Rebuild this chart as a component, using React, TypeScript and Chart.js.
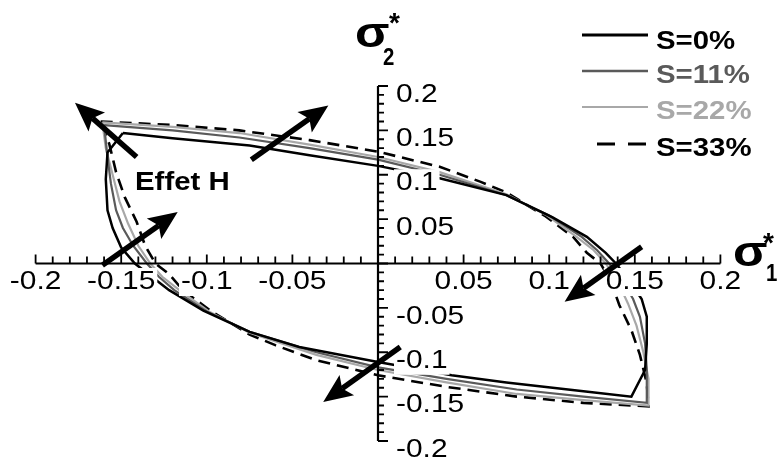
import React, { useEffect, useRef } from "react";
import { Chart, registerables } from "chart.js";

Chart.register(...registerables);

// ---- data (sigma1*, sigma2*), closed loops ----
const S0_X = [-0.149, -0.120, -0.075, -0.040, 0.000, 0.036, 0.075, 0.102, 0.122, 0.133, 0.139,
  0.147, 0.154, 0.157, 0.157, 0.156, 0.148,
  0.120, 0.075, 0.043, 0.000, -0.046, -0.075, -0.102, -0.122, -0.134, -0.142,
  -0.150, -0.155, -0.158, -0.159, -0.158];
const S0_Y = [0.147, 0.141, 0.133, 0.122, 0.110, 0.096, 0.077, 0.052, 0.030, 0.012, 0.000,
  -0.020, -0.040, -0.060, -0.090, -0.120, -0.150,
  -0.144, -0.134, -0.126, -0.111, -0.094, -0.077, -0.053, -0.030, -0.012, 0.000,
  0.018, 0.040, 0.060, 0.095, 0.125];

const S11_X = [-0.160, -0.120, -0.081, -0.040, 0.000, 0.036, 0.075, 0.100, 0.119, 0.128, 0.135,
  0.143, 0.149, 0.153, 0.156, 0.157, 0.157,
  0.120, 0.081, 0.040, 0.000, -0.036, -0.075, -0.100, -0.119, -0.128, -0.135,
  -0.143, -0.149, -0.153, -0.156, -0.158];
const S11_Y = [0.156, 0.150, 0.142, 0.130, 0.117, 0.100, 0.077, 0.054, 0.030, 0.015, 0.000,
  -0.020, -0.040, -0.060, -0.090, -0.120, -0.157,
  -0.150, -0.142, -0.130, -0.117, -0.100, -0.077, -0.054, -0.030, -0.015, 0.000,
  0.020, 0.040, 0.060, 0.090, 0.120];

const S22_X = [-0.161, -0.120, -0.081, -0.040, 0.000, 0.036, 0.075, 0.098, 0.116, 0.126, 0.133,
  0.140, 0.146, 0.151, 0.155, 0.158, 0.158,
  0.120, 0.081, 0.040, 0.000, -0.036, -0.075, -0.098, -0.116, -0.126, -0.133,
  -0.140, -0.146, -0.151, -0.155, -0.159];
const S22_Y = [0.159, 0.154, 0.147, 0.134, 0.120, 0.103, 0.078, 0.055, 0.030, 0.015, 0.000,
  -0.020, -0.045, -0.070, -0.100, -0.130, -0.160,
  -0.154, -0.147, -0.134, -0.120, -0.103, -0.078, -0.055, -0.030, -0.015, 0.000,
  0.020, 0.045, 0.070, 0.100, 0.130];

const S33_X = [-0.162, -0.120, -0.081, -0.040, 0.000, 0.036, 0.060, 0.075, 0.098, 0.114, 0.122, 0.130,
  0.136, 0.141, 0.148, 0.153, 0.157, 0.158,
  0.120, 0.081, 0.040, 0.000, -0.036, -0.060, -0.075, -0.098, -0.114, -0.122, -0.130,
  -0.136, -0.141, -0.148, -0.153, -0.157];
const S33_Y = [0.160, 0.156, 0.150, 0.139, 0.126, 0.109, 0.092, 0.080, 0.053, 0.030, 0.012, 0.000,
  -0.020, -0.047, -0.075, -0.103, -0.135, -0.161,
  -0.157, -0.150, -0.139, -0.126, -0.109, -0.092, -0.080, -0.053, -0.030, -0.012, 0.000,
  0.020, 0.047, 0.075, 0.103, 0.135];

const SERIES_LABELS = ["S=0%", "S=11%", "S=22%", "S=33%"];
const SERIES_COLORS = ["#000000", "#5a5a5a", "#a8a8a8", "#000000"];

const X_TICK_VALUES = [-0.2, -0.15, -0.1, -0.05, 0.05, 0.1, 0.15, 0.2];
const X_TICK_LABELS = ["-0.2", "-0.15", "-0.1", "-0.05", "0.05", "0.1", "0.15", "0.2"];
const Y_TICK_VALUES = [0.2, 0.15, 0.1, 0.05, -0.05, -0.1, -0.15, -0.2];
const Y_TICK_LABELS = ["0.2", "0.15", "0.1", "0.05", "-0.05", "-0.1", "-0.15", "-0.2"];
const AXIS_MIN = -0.2;
const AXIS_MAX = 0.2;
const MINOR_COUNT = 40; // minor ticks every 0.01

// arrows: [tailX, tailY, tipX, tipY] in data units
const ARROWS: [number, number, number, number][] = [
  [-0.141, 0.120, -0.177, 0.181],
  [-0.074, 0.117, -0.029, 0.178],
  [-0.161, -0.002, -0.117, 0.058],
  [0.154, 0.019, 0.109, -0.043],
  [0.013, -0.094, -0.032, -0.156],
];
const ANNOTATION = "Effet H";

const FONT = '"Liberation Sans", Arial, sans-serif';

function toPoints(xs: number[], ys: number[]) {
  const pts = xs.map((x, i) => ({ x, y: ys[i] }));
  pts.push({ x: xs[0], y: ys[0] });
  return pts;
}

function stretchedText(ctx: CanvasRenderingContext2D, text: string, px: number, py: number,
  font: string, sx: number, align: string, color: string, bg: number) {
  ctx.save();
  ctx.font = font;
  const w = ctx.measureText(text).width * sx;
  const left = align === "center" ? px - w / 2 : align === "left" ? px : px - w;
  if (bg > 0) {
    ctx.fillStyle = "#ffffff";
    ctx.fillRect(left - 2, py - bg / 2, w + 4, bg);
  }
  ctx.translate(left, py);
  ctx.scale(sx, 1);
  ctx.textAlign = "left";
  ctx.textBaseline = bg > 0 ? "middle" : "alphabetic";
  ctx.fillStyle = color;
  ctx.fillText(text, 0, 0);
  ctx.restore();
}

const overlay = {
  id: "overlay",
  afterDatasetsDraw(chart: any) {
    const ctx: CanvasRenderingContext2D = chart.ctx;
    const xs = chart.scales.x;
    const ys = chart.scales.y;
    const X = (v: number) => xs.getPixelForValue(v);
    const Y = (v: number) => ys.getPixelForValue(v);
    const x0 = X(0);
    const y0 = Y(0);
    ctx.save();

    // tick labels with white boxes
    const tickFont = `26px ${FONT}`;
    X_TICK_VALUES.forEach((v, i) => {
      stretchedText(ctx, X_TICK_LABELS[i], X(v), y0 + 18.5, tickFont, 1.15, "center", "#000", 28);
    });
    Y_TICK_VALUES.forEach((v, i) => {
      stretchedText(ctx, Y_TICK_LABELS[i], x0 + 18, Y(v) + 8.5, tickFont, 1.15, "left", "#000", 28);
    });

    // axes
    ctx.strokeStyle = "#000";
    ctx.lineWidth = 2.2;
    ctx.beginPath();
    ctx.moveTo(X(AXIS_MIN), y0);
    ctx.lineTo(X(AXIS_MAX), y0);
    ctx.moveTo(x0, Y(AXIS_MAX));
    ctx.lineTo(x0, Y(AXIS_MIN));
    ctx.stroke();
    ctx.lineWidth = 1.8;
    ctx.beginPath();
    for (let i = 0; i <= MINOR_COUNT; i++) {
      const v = AXIS_MIN + (i * (AXIS_MAX - AXIS_MIN)) / MINOR_COUNT;
      const major = i % 5 === 0;
      const px = X(v);
      ctx.moveTo(px, y0);
      ctx.lineTo(px, y0 - (major ? 9 : 7));
      const py = Y(v);
      ctx.moveTo(x0, py);
      ctx.lineTo(x0 + (major ? 10 : 6), py);
    }
    ctx.stroke();

    // arrows
    ARROWS.forEach(([tx, ty, hx, hy]) => {
      const ax = X(tx), ay = Y(ty), bx = X(hx), by = Y(hy);
      const dx = bx - ax, dy = by - ay;
      const len = Math.hypot(dx, dy);
      const ux = dx / len, uy = dy / len;
      const headLen = 29, halfW = 12.5;
      ctx.strokeStyle = "#000";
      ctx.fillStyle = "#000";
      ctx.lineWidth = 5.5;
      ctx.lineCap = "butt";
      ctx.beginPath();
      ctx.moveTo(ax, ay);
      ctx.lineTo(bx - ux * headLen * 0.8, by - uy * headLen * 0.8);
      ctx.stroke();
      const baseX = bx - ux * headLen, baseY = by - uy * headLen;
      ctx.beginPath();
      ctx.moveTo(bx, by);
      ctx.lineTo(baseX - uy * halfW, baseY + ux * halfW);
      ctx.lineTo(bx - ux * headLen * 0.8, by - uy * headLen * 0.8);
      ctx.lineTo(baseX + uy * halfW, baseY - ux * halfW);
      ctx.closePath();
      ctx.fill();
    });

    // annotation
    stretchedText(ctx, ANNOTATION, 135, 190, `bold 26px ${FONT}`, 1.13, "left", "#000", 0);

    // legend
    const baselines = [48.5, 83, 119, 156];
    const lineYs = [35, 71, 107, 144];
    const widths = [3, 2.5, 2, 3];
    SERIES_LABELS.forEach((lab, i) => {
      ctx.save();
      ctx.strokeStyle = SERIES_COLORS[i];
      ctx.lineWidth = widths[i];
      ctx.beginPath();
      if (i === 3) {
        ctx.setLineDash([18, 13]);
        ctx.moveTo(597, lineYs[i]);
        ctx.lineTo(646, lineYs[i]);
      } else {
        ctx.moveTo(582, lineYs[i]);
        ctx.lineTo(648, lineYs[i]);
      }
      ctx.stroke();
      ctx.restore();
      stretchedText(ctx, lab, 656, baselines[i], `bold 26px ${FONT}`, 1.13, "left", SERIES_COLORS[i], 0);
    });

    // axis titles
    stretchedText(ctx, "σ", 355, 47, `bold 42px ${FONT}`, 1.2, "left", "#000", 0);
    stretchedText(ctx, "2", 383, 65, `bold 24px ${FONT}`, 0.85, "left", "#000", 0);
    stretchedText(ctx, "*", 389, 32, `bold 28px ${FONT}`, 1.0, "left", "#000", 0);
    stretchedText(ctx, "σ", 733, 266, `bold 42px ${FONT}`, 1.2, "left", "#000", 0);
    stretchedText(ctx, "1", 766, 281, `bold 24px ${FONT}`, 0.85, "left", "#000", 0);
    stretchedText(ctx, "*", 763, 252, `bold 28px ${FONT}`, 1.0, "left", "#000", 0);

    ctx.restore();
  },
};

export default function App() {
  const ref = useRef<HTMLCanvasElement>(null);
  useEffect(() => {
    if (!ref.current) return;
    const series = [
      { xs: S0_X, ys: S0_Y, w: 2.5, dash: [] as number[] },
      { xs: S11_X, ys: S11_Y, w: 2.2, dash: [] as number[] },
      { xs: S22_X, ys: S22_Y, w: 2.2, dash: [] as number[] },
      { xs: S33_X, ys: S33_Y, w: 2.6, dash: [12, 7] },
    ];
    const chart = new Chart(ref.current, {
      type: "scatter",
      data: {
        datasets: series.map((s, i) => ({
          label: SERIES_LABELS[i],
          data: toPoints(s.xs, s.ys),
          showLine: true,
          borderColor: SERIES_COLORS[i],
          backgroundColor: SERIES_COLORS[i],
          borderWidth: s.w,
          borderDash: s.dash,
          pointRadius: 0,
          tension: 0,
          fill: false,
        })),
      },
      options: {
        responsive: false,
        animation: false,
        events: [],
        layout: { padding: { left: 35.6, right: 58.6, top: 86, bottom: 23 } },
        plugins: { legend: { display: false }, tooltip: { enabled: false } },
        scales: {
          x: { type: "linear", min: AXIS_MIN, max: AXIS_MAX, display: false },
          y: { type: "linear", min: AXIS_MIN, max: AXIS_MAX, display: false },
        },
      },
      plugins: [overlay],
    });
    return () => chart.destroy();
  }, []);
  return (
    <div style={{ position: "fixed", left: 0, top: 0, width: 779, height: 464, background: "#fff" }}>
      <canvas ref={ref} width={779} height={464} style={{ display: "block" }} />
    </div>
  );
}
